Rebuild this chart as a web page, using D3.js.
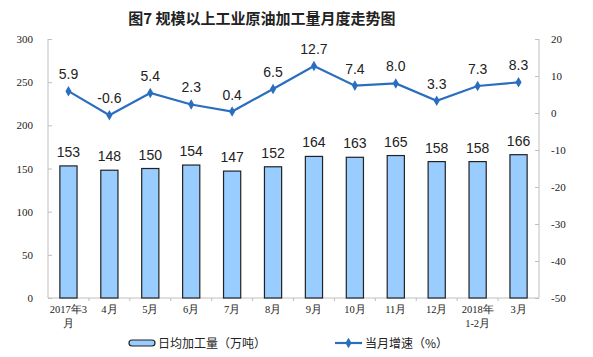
<!DOCTYPE html>
<html><head><meta charset="utf-8">
<script src="https://cdn.jsdelivr.net/npm/d3@7"></script>
<style>body{margin:0;background:#fff}svg{display:block}</style>
</head><body>
<script>
const categories = [["2017年3","月"],["4月"],["5月"],["6月"],["7月"],["8月"],["9月"],["10月"],["11月"],["12月"],["2018年","1-2月"],["3月"]];
const dailyVolume = [153,148,150,154,147,152,164,163,165,158,158,166];
const growth = [5.9,-0.6,5.4,2.3,0.4,6.5,12.7,7.4,8.0,3.3,7.3,8.3];
const growthLabels = ["5.9","-0.6","5.4","2.3","0.4","6.5","12.7","7.4","8.0","3.3","7.3","8.3"];
const leftTicks = [0,50,100,150,200,250,300];
const rightTicks = [-50,-40,-30,-20,-10,0,10,20];
const title = "图7  规模以上工业原油加工量月度走势图";
const legendBar = "日均加工量（万吨）";
const legendLine = "当月增速（%）";

const W=593,H=357, L=48, R=539, T=39, B=298;
const svg=d3.select("body").append("svg").attr("width",W).attr("height",H);
const x=d3.scaleBand().domain(d3.range(categories.length)).range([L,R]).paddingInner(0.58).paddingOuter(0.29);
const xb=d3.scaleBand().domain(d3.range(categories.length)).range([L,R]);
const yL=d3.scaleLinear().domain([0,300]).range([B,T]);
const yR=d3.scaleLinear().domain([-50,20]).range([B,T]);
const axisCol="#bfbfbf";
const serif="'Liberation Serif','Times New Roman',serif";
const cjk="'Noto Sans CJK SC','Noto Sans',sans-serif";

svg.append("text").attr("x",262).attr("y",24).attr("text-anchor","middle")
  .attr("font-family",cjk).attr("font-weight","bold").attr("font-size",15).attr("fill","#222").text(title);

// left axis
const gl=svg.append("g").attr("transform",`translate(${L},0)`).call(d3.axisLeft(yL).tickValues(leftTicks).tickFormat(d=>String(d)).tickSize(-4).tickPadding(15));
gl.selectAll("path,line").attr("stroke",axisCol);
gl.select(".domain").attr("d",`M0,${T}V${B}`);
gl.selectAll("text").attr("font-family",serif).attr("font-size",11).attr("fill","#222");
// right axis
const gr=svg.append("g").attr("transform",`translate(${R},0)`).call(d3.axisRight(yR).tickValues(rightTicks).tickFormat(d=>String(d)).tickSize(-4).tickPadding(12));
gr.selectAll("path,line").attr("stroke",axisCol);
gr.select(".domain").attr("d",`M0,${T}V${B}`);
gr.selectAll("text").attr("font-family",serif).attr("font-size",11).attr("fill","#222");
// bottom axis
svg.append("line").attr("x1",L).attr("x2",R).attr("y1",B).attr("y2",B).attr("stroke",axisCol);
svg.selectAll(".bt").data(d3.range(1,categories.length)).join("line")
  .attr("x1",d=>xb(d)).attr("x2",d=>xb(d)).attr("y1",B).attr("y2",B+3).attr("stroke",axisCol);
const xl=svg.selectAll(".xl").data(categories).join("text")
  .attr("text-anchor","middle").attr("font-family",serif).attr("font-size",10.5).attr("fill","#222")
  .attr("transform",(d,i)=>`translate(${xb(i)+xb.bandwidth()/2},${B+15})`);
xl.selectAll("tspan").data(d=>d).join("tspan").attr("x",0).attr("dy",(d,i)=>i?14:0).text(d=>d);

// bars
svg.selectAll(".bar").data(dailyVolume).join("rect")
  .attr("x",(d,i)=>x(i)).attr("width",x.bandwidth()).attr("y",d=>yL(d)).attr("height",d=>B-yL(d))
  .attr("fill","#99ccff").attr("stroke","#222").attr("stroke-width",1.2);
svg.selectAll(".bl").data(dailyVolume).join("text")
  .attr("x",(d,i)=>x(i)+x.bandwidth()/2).attr("y",d=>yL(d)-9).attr("text-anchor","middle")
  .attr("font-family","'Liberation Sans',Arial,sans-serif").attr("font-size",14).attr("fill","#222").text(d=>d);

// line
const cx=i=>xb(i)+xb.bandwidth()/2;
const lineCol="#2a6ebf";
svg.append("path").datum(growth).attr("fill","none").attr("stroke",lineCol).attr("stroke-width",2.2)
  .attr("d",d3.line().x((d,i)=>cx(i)).y(d=>yR(d)));
const diamond=d3.symbol().type(d3.symbolDiamond).size(32);
svg.selectAll(".pt").data(growth).join("path").attr("d",diamond)
  .attr("transform",(d,i)=>`translate(${cx(i)},${yR(d)})`).attr("fill",lineCol);
svg.selectAll(".ll").data(growth).join("text")
  .attr("x",(d,i)=>cx(i)).attr("y",d=>yR(d)-12).attr("text-anchor","middle")
  .attr("font-family","'Liberation Sans',Arial,sans-serif").attr("font-size",14).attr("fill","#222").text((d,i)=>growthLabels[i]);

// legend
const ly=343;
svg.append("rect").attr("x",129).attr("y",ly-3).attr("width",26).attr("height",6).attr("rx",3)
  .attr("fill","#99ccff").attr("stroke","#222").attr("stroke-width",1.2);
svg.append("text").attr("x",158).attr("y",ly+4.5).attr("font-family",cjk).attr("font-size",12).attr("fill","#222").text(legendBar);
svg.append("line").attr("x1",335).attr("x2",362).attr("y1",ly).attr("y2",ly).attr("stroke",lineCol).attr("stroke-width",2.2);
svg.append("path").attr("d",diamond).attr("transform",`translate(348.5,${ly})`).attr("fill",lineCol);
svg.append("text").attr("x",365).attr("y",ly+4.5).attr("font-family",cjk).attr("font-size",12).attr("fill","#222").text(legendLine);
</script>
</body></html>
